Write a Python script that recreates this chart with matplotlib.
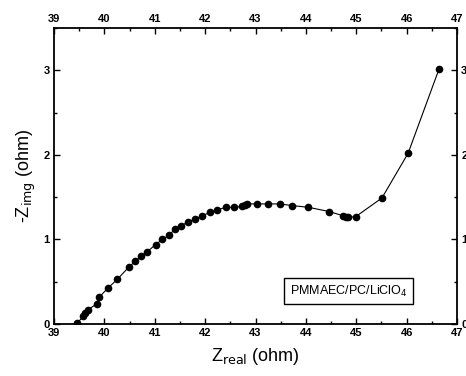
import matplotlib.pyplot as plt
from matplotlib.ticker import MultipleLocator

plt.rcParams['font.family'] = ['Liberation Sans', 'DejaVu Sans']

# impedance data
z_real = [39.46, 39.58, 39.62, 39.68, 39.85, 39.90, 40.08, 40.26, 40.48, 40.61,
          40.72, 40.84, 41.02, 41.15, 41.28, 41.40, 41.53, 41.66, 41.80, 41.94,
          42.10, 42.24, 42.41, 42.57, 42.74, 42.79, 42.84, 43.03, 43.25, 43.48,
          43.73, 44.05, 44.46, 44.74, 44.79, 44.84, 44.99, 45.51, 46.03, 46.64]
z_img = [0.01, 0.09, 0.13, 0.17, 0.24, 0.32, 0.43, 0.53, 0.67, 0.74,
         0.80, 0.85, 0.94, 1.00, 1.05, 1.12, 1.16, 1.21, 1.24, 1.28,
         1.32, 1.35, 1.38, 1.38, 1.39, 1.41, 1.42, 1.42, 1.42, 1.42,
         1.40, 1.38, 1.33, 1.28, 1.26, 1.26, 1.27, 1.49, 2.02, 3.01]
sample = 'PMMAEC/PC/LiClO$_4$'

fig = plt.figure(figsize=(4.66, 3.76), dpi=100)
ax = fig.add_axes([0.1159, 0.1383, 0.8648, 0.7872])

ax.plot(z_real, z_img, '-', color='black', lw=0.8, marker='o', ms=4.5)

ax.set_xlim(39, 47)
ax.set_ylim(0, 3.5)
ax.xaxis.set_major_locator(MultipleLocator(1))
ax.xaxis.set_minor_locator(MultipleLocator(0.5))
ax.yaxis.set_major_locator(MultipleLocator(1))
ax.yaxis.set_minor_locator(MultipleLocator(0.5))
ax.tick_params(which='both', direction='in', top=True, right=True,
               labeltop=True, labelright=True, labelsize=8, pad=3)
ax.tick_params(which='major', length=4, width=1)
ax.tick_params(which='minor', length=2.5, width=1)
for lab in ax.get_xticklabels() + ax.get_yticklabels():
    lab.set_fontweight('bold')
for s in ax.spines.values():
    s.set_linewidth(1.3)

ax.set_xlabel('Z$_{\\mathrm{real}}$ (ohm)', fontsize=13, labelpad=6)
ax.set_ylabel('-Z$_{\\mathrm{img}}$ (ohm)', fontsize=13, labelpad=4)

ax.text(44.85, 0.39, sample, fontsize=9, ha='center', va='center',
        bbox=dict(boxstyle='square,pad=0.45', fc='white', ec='black', lw=1))

fig.savefig('out.png', dpi=100)
